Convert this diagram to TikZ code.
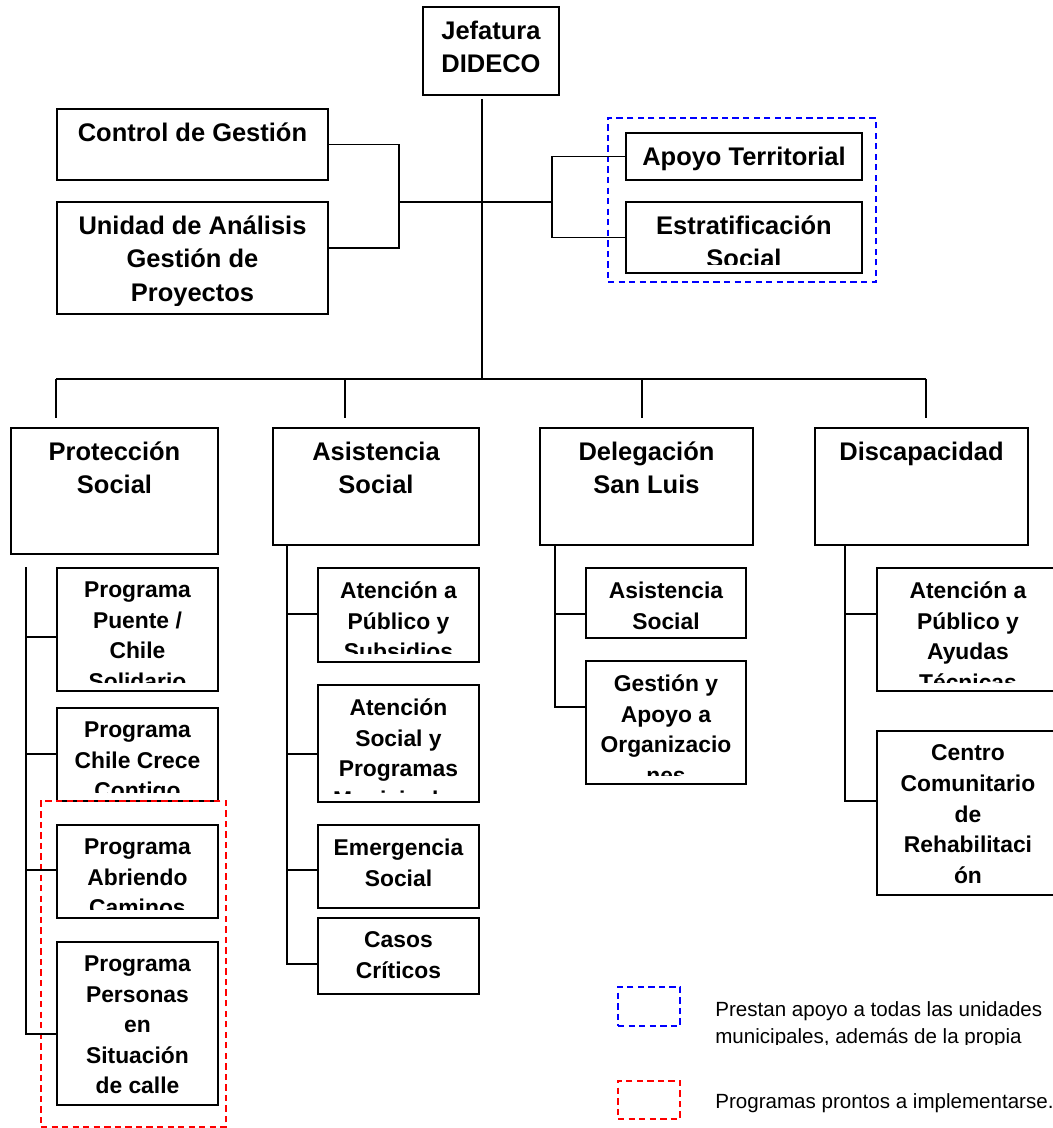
\documentclass[tikz,border=0pt]{standalone}
\usepackage{fontspec}
\setmainfont{Liberation Sans}
\usetikzlibrary{fit}

\begin{document}
\begin{tikzpicture}[
  x=0.02cm, y=-0.02cm,
  unit/.style={draw, line width=1.1pt, inner sep=0pt, anchor=north west},
  wh/.style 2 args={minimum width=#1*0.02cm, minimum height=#2*0.02cm},
  link/.style={line width=0.9pt},
  grp/.style={draw=#1, dash pattern=on 3.6pt off 2.4pt, line width=0.9pt, inner sep=0pt},
  bare/.style={draw=none, minimum width=0pt, minimum height=0pt, anchor=north, align=center, inner sep=0pt},
  headtxt/.style={bare, font=\bfseries\fontsize{14.5}{19}\selectfont},
  subtxt/.style={bare, font=\bfseries\fontsize{13}{17.4}\selectfont},
  legtxt/.style={align=left, inner sep=0pt, font=\fontsize{11.7}{15.5}\selectfont},
  cut/.style 2 args={path picture={
      \clip ([yshift=0.16cm]path picture bounding box.south west) rectangle (path picture bounding box.north east);
      \node[#1] at ([yshift=-0.26cm]path picture bounding box.north) {#2};}}
  ]

  \clip (0,0) rectangle (1053,1128);

  % top level
  \node[unit, wh={136}{88}, cut={headtxt}{Jefatura\\DIDECO}] (jefe) at (422,6) {};
  \node[unit, wh={271}{71}, cut={headtxt}{Control de Gestión}] (ctrl) at (56,108) {};
  \node[unit, wh={271}{112}, cut={headtxt}{Unidad de Análisis\\Gestión de\\Proyectos}] (udag) at (56,201) {};
  \node[unit, wh={236}{47}, cut={headtxt}{Apoyo Territorial}] (apoyo) at (625,132) {};
  \node[unit, wh={236}{71}, cut={headtxt}{Estratificación\\Social}] (estrat) at (625,201) {};
  \node[grp=blue, fit={(608,118) (876,282)}] (grpblue) {};

  % departments
  \node[unit, wh={207}{126}, cut={headtxt}{Protección\\Social}] (prot) at (10,427) {};
  \node[unit, wh={206}{117}, cut={headtxt}{Asistencia\\Social}] (asis) at (272,427) {};
  \node[unit, wh={213}{117}, cut={headtxt}{Delegación\\San Luis}] (deleg) at (539,427) {};
  \node[unit, wh={213}{117}, cut={headtxt}{Discapacidad}] (disc) at (814,427) {};

  % Proteccion Social units
  \node[unit, wh={161}{123}, cut={subtxt}{Programa\\Puente /\\Chile\\Solidario}] (prot1) at (56,567) {};
  \node[unit, wh={161}{93}, cut={subtxt}{Programa\\Chile Crece\\Contigo}] (prot2) at (56,707) {};
  \node[unit, wh={161}{93}, cut={subtxt}{Programa\\Abriendo\\Caminos}] (prot3) at (56,824) {};
  \node[unit, wh={161}{163}, cut={subtxt}{Programa\\Personas\\en\\Situación\\de calle}] (prot4) at (56,941) {};
  \node[grp=red, fit={(41,801) (226,1127)}] (grpred) {};

  % Asistencia Social units
  \node[unit, wh={161}{94}, cut={subtxt}{Atención a\\Público y\\Subsidios}] (asis1) at (317,567) {};
  \node[unit, wh={161}{117}, cut={subtxt}{Atención\\Social y\\Programas\\Municipales}] (asis2) at (317,684) {};
  \node[unit, wh={161}{83}, cut={subtxt}{Emergencia\\Social}] (asis3) at (317,824) {};
  \node[unit, wh={161}{76}, cut={subtxt}{Casos\\Críticos}] (asis4) at (317,917) {};

  % Delegacion San Luis units
  \node[unit, wh={160}{70}, cut={subtxt}{Asistencia\\Social}] (deleg1) at (585,567) {};
  \node[unit, wh={160}{123}, cut={subtxt}{Gestión y\\Apoyo a\\Organizacio\\nes}] (deleg2) at (585,660) {};

  % Discapacidad units (cut by the page edge)
  \node[unit, wh={182}{123}, cut={subtxt}{Atención a\\Público y\\Ayudas\\Técnicas}] (disc1) at (876,567) {};
  \node[unit, wh={182}{164}, cut={subtxt}{Centro\\Comunitario\\de\\Rehabilitaci\\ón}] (disc2) at (876,730) {};

  % staff lines
  \coordinate (top) at (482,99);
  \coordinate (hub) at (482,202);
  \coordinate (bus) at (482,379);
  \coordinate (lj) at (399,202);
  \coordinate (rj) at (552,202);
  \draw[link] (top) -- (bus);
  \draw[link] (ctrl.east) -| (lj) |- (udag.east |- 0,248);
  \draw[link] (lj) -- (hub) -- (rj);
  \draw[link] (apoyo.west) -| (rj) |- (estrat.west);

  % bus to departments
  \coordinate (dprot) at (56,418);
  \coordinate (dasis) at (345,418);
  \coordinate (ddeleg) at (642,418);
  \coordinate (ddisc) at (926,418);
  \draw[link] (bus -| dprot) -- (bus -| ddisc);
  \foreach \d in {dprot, dasis, ddeleg, ddisc}
    \draw[link] (bus -| \d) -- (\d);

  % spines to units
  \coordinate (pspine) at (26,567);
  \draw[link] (pspine) |- (prot4.west |- 0,1034);
  \foreach \c/\y in {prot1/637, prot2/754, prot3/870}
    \draw[link] (pspine |- 0,\y) -- (\c.west |- 0,\y);

  \draw[link] (asis.south -| 287,0) |- (asis4.west |- 0,964);
  \foreach \c/\y in {asis1/614, asis2/754, asis3/870}
    \draw[link] (287,\y) -- (\c.west |- 0,\y);

  \draw[link] (deleg.south -| 555,0) |- (deleg2.west |- 0,707);
  \draw[link] (555,614) -- (deleg1.west |- 0,614);

  \draw[link] (disc.south -| 845,0) |- (disc2.west |- 0,801);
  \draw[link] (845,614) -- (disc1.west |- 0,614);

  % legend
  \node[grp=blue, fit={(618,987) (680,1026)}] (legblue) {};
  \node[grp=red, fit={(618,1081) (680,1119)}] (legred) {};
  \begin{scope}
    \clip (700,985) rectangle (1053,1044);
    \node[legtxt, anchor=north west] (leg1) at (715,1001) {Prestan apoyo a todas las unidades\\municipales, además de la propia};
  \end{scope}
  \node[legtxt, anchor=base west] (leg2) at (715,1108) {Programas prontos a implementarse.};

\end{tikzpicture}
\end{document}
